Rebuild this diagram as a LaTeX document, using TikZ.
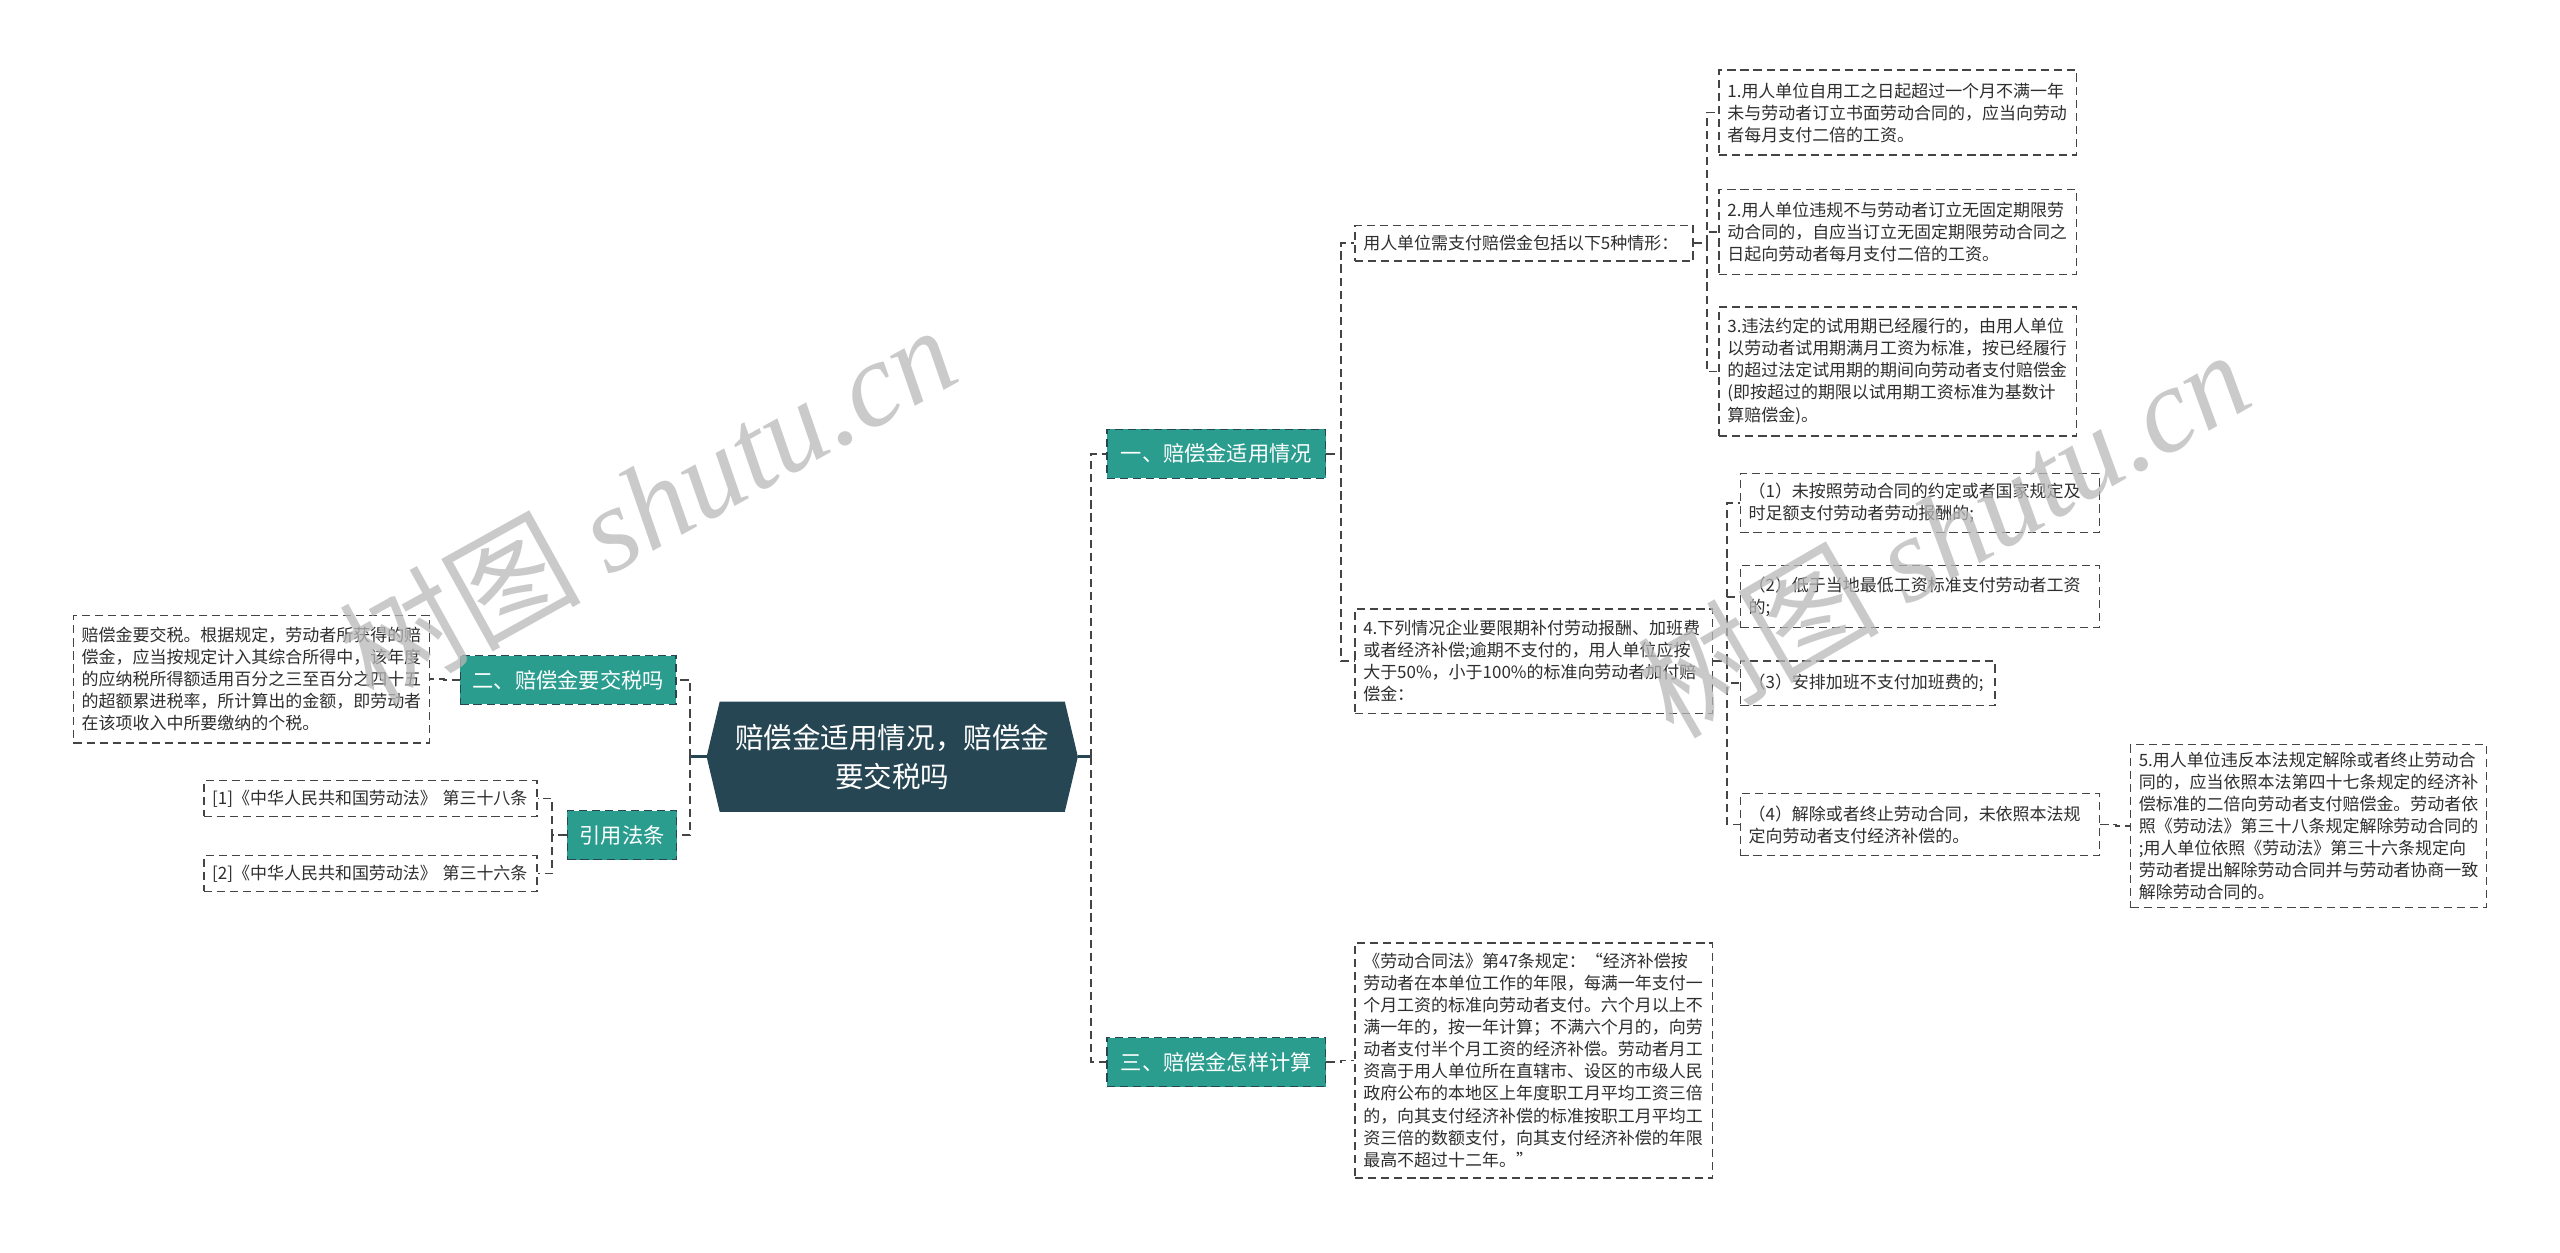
\documentclass[tikz,border=0pt]{standalone}
\usepackage{fontspec}
\setmainfont{Noto Sans CJK SC}
\newfontfamily\wmserif{Liberation Serif}
\usetikzlibrary{backgrounds}
\definecolor{teal1}{HTML}{2A9D8F}
\definecolor{darkc}{HTML}{264653}
\definecolor{linec}{HTML}{444444}
\definecolor{txt}{HTML}{2E2E2E}
\definecolor{wmc}{HTML}{B8B8B8}
\begin{document}
\begin{tikzpicture}[x=1pt,y=-1pt,
  leaf/.style={draw=linec, line width=0.9pt, dash pattern=on 5pt off 3pt, fill=white, text=txt,
    align=left, inner xsep=5pt, inner ysep=3pt, font=\fontsize{10.4}{13.5}\selectfont},
  topic/.style={draw=darkc, line width=0.9pt, dash pattern=on 5pt off 3pt, fill=teal1, text=white,
    inner sep=0pt, minimum height=30pt, font=\fontsize{13}{16}\selectfont},
  rootnode/.style={text=white, align=center, inner sep=0pt, minimum width=211pt, minimum height=67pt,
    font=\fontsize{17.5}{24}\selectfont},
  conn/.style={draw=linec, line width=1pt, dash pattern=on 5pt off 3pt},
  rootline/.style={draw=darkc, line width=1.6pt},
  wm/.style={text=wmc, text opacity=0.75, font=\fontsize{74}{78}\selectfont, inner sep=0pt}
]
\useasboundingbox (0,0) rectangle (1568,767);

% root
\node[rootnode] (c) at (546.5,463.5) {赔偿金适用情况，赔偿金\\要交税吗};
\begin{scope}[on background layer]
\fill[darkc] ([xshift=-8pt]c.west) -- (c.north west) -- (c.north east) -- ([xshift=8pt]c.east)
  -- (c.south east) -- (c.south west) -- cycle;
\end{scope}

% topics
\node[topic, minimum width=134pt] (b1) at (745,278) {一、赔偿金适用情况};
\node[topic, minimum width=134pt] (b3) at (745,650.5) {三、赔偿金怎样计算};
\node[topic, minimum width=132pt] (b2) at (348,416.5) {二、赔偿金要交税吗};
\node[topic, minimum width=67pt] (b4) at (381,511.5) {引用法条};

% left leaves
\node[leaf, text width=208pt, minimum height=78pt] (L1) at (154,416) {赔偿金要交税。根据规定，劳动者所获得的赔\\偿金，应当按规定计入其综合所得中，该年度\\的应纳税所得额适用百分之三至百分之四十五\\的超额累进税率，所计算出的金额，即劳动者\\在该项收入中所要缴纳的个税。};
\node[leaf, text width=194pt, minimum height=22pt] (R1) at (227,489) {[1]《中华人民共和国劳动法》 第三十八条};
\node[leaf, text width=194pt, minimum height=22pt] (R2) at (227,535) {[2]《中华人民共和国劳动法》 第三十六条};

% right leaves
\node[leaf, text width=197pt, minimum height=22pt] (S0) at (933.5,149) {用人单位需支付赔偿金包括以下5种情形：};
\node[leaf, text width=209pt, minimum height=52pt] (A1) at (1162.5,69) {1.用人单位自用工之日起超过一个月不满一年\\未与劳动者订立书面劳动合同的，应当向劳动\\者每月支付二倍的工资。};
\node[leaf, text width=209pt, minimum height=52pt] (A2) at (1162.5,142) {2.用人单位违规不与劳动者订立无固定期限劳\\动合同的，自应当订立无固定期限劳动合同之\\日起向劳动者每月支付二倍的工资。};
\node[leaf, text width=209pt, minimum height=79pt] (A3) at (1162.5,227.5) {3.违法约定的试用期已经履行的，由用人单位\\以劳动者试用期满月工资为标准，按已经履行\\的超过法定试用期的期间向劳动者支付赔偿金\\(即按超过的期限以试用期工资标准为基数计\\算赔偿金)。};
\node[leaf, text width=209pt, minimum height=64pt] (S4) at (939.5,405) {4.下列情况企业要限期补付劳动报酬、加班费\\或者经济补偿;逾期不支付的，用人单位应按\\大于50\%，小于100\%的标准向劳动者加付赔\\偿金：};
\node[leaf, text width=210pt, minimum height=36pt] (P1) at (1176,308) {（1）未按照劳动合同的约定或者国家规定及\\时足额支付劳动者劳动报酬的;};
\node[leaf, text width=210pt, minimum height=38pt] (P2) at (1176,365.5) {（2）低于当地最低工资标准支付劳动者工资\\的;};
\node[leaf, text width=146pt, minimum height=27pt] (P3) at (1144,418.5) {（3）安排加班不支付加班费的;};
\node[leaf, text width=210pt, minimum height=38pt] (P4) at (1176,505) {（4）解除或者终止劳动合同，未依照本法规\\定向劳动者支付经济补偿的。};
\node[leaf, text width=208pt, minimum height=100pt] (Q5) at (1414,506) {5.用人单位违反本法规定解除或者终止劳动合\\同的，应当依照本法第四十七条规定的经济补\\偿标准的二倍向劳动者支付赔偿金。劳动者依\\照《劳动法》第三十八条规定解除劳动合同的\\;用人单位依照《劳动法》第三十六条规定向\\劳动者提出解除劳动合同并与劳动者协商一致\\解除劳动合同的。};
\node[leaf, text width=209pt, minimum height=144pt] (T3) at (939.5,649.5) {《劳动合同法》第47条规定：“经济补偿按\\劳动者在本单位工作的年限，每满一年支付一\\个月工资的标准向劳动者支付。六个月以上不\\满一年的，按一年计算；不满六个月的，向劳\\动者支付半个月工资的经济补偿。劳动者月工\\资高于用人单位所在直辖市、设区的市级人民\\政府公布的本地区上年度职工月平均工资三倍\\的，向其支付经济补偿的标准按职工月平均工\\资三倍的数额支付，向其支付经济补偿的年限\\最高不超过十二年。”};

% connectors from root
\draw[rootline] ([xshift=8pt]c.east) -- ++(8,0) coordinate (tR);
\draw[conn] (tR) |- (b1.west);
\draw[conn] (tR) |- (b3.west);
\draw[rootline] ([xshift=-8pt]c.west) -- ++(-10,0) coordinate (tL);
\draw[conn] (tL) |- (b2.east);
\draw[conn] (tL) |- (b4.east);

% left side
\draw[conn] (b2.west) -- ++(-9.5,0) |- (L1.east);
\draw[conn] (b4.west) -- ++(-9,0) |- (R1.east);
\draw[conn] (b4.west) -- ++(-9,0) |- (R2.east);

% right side
\draw[conn] (b1.east) -- ++(9,0) |- (S0.west);
\draw[conn] (b1.east) -- ++(9,0) |- (S4.west);
\draw[conn] (S0.east) -- ++(8,0) |- (A1.west);
\draw[conn] (S0.east) -- ++(8,0) |- (A2.west);
\draw[conn] (S0.east) -- ++(8,0) |- (A3.west);
\draw[conn] (S4.east) -- ++(8.5,0) |- (P1.west);
\draw[conn] (S4.east) -- ++(8.5,0) |- (P2.west);
\draw[conn] (S4.east) -- ++(8.5,0) |- (P3.west);
\draw[conn] (S4.east) -- ++(8.5,0) |- (P4.west);
\draw[conn] (P4.east) -- ++(9.5,0) |- (Q5.west);
\draw[conn] (b3.east) -- ++(9,0) |- (T3.west);

% watermarks
\node[wm, rotate=29] (wm1) at (396,308) {树图 {\wmserif\itshape shutu.cn}};
\node[wm, rotate=30] (wm2) at (1190,326) {树图 {\wmserif\itshape shutu.cn}};
\end{tikzpicture}
\end{document}
